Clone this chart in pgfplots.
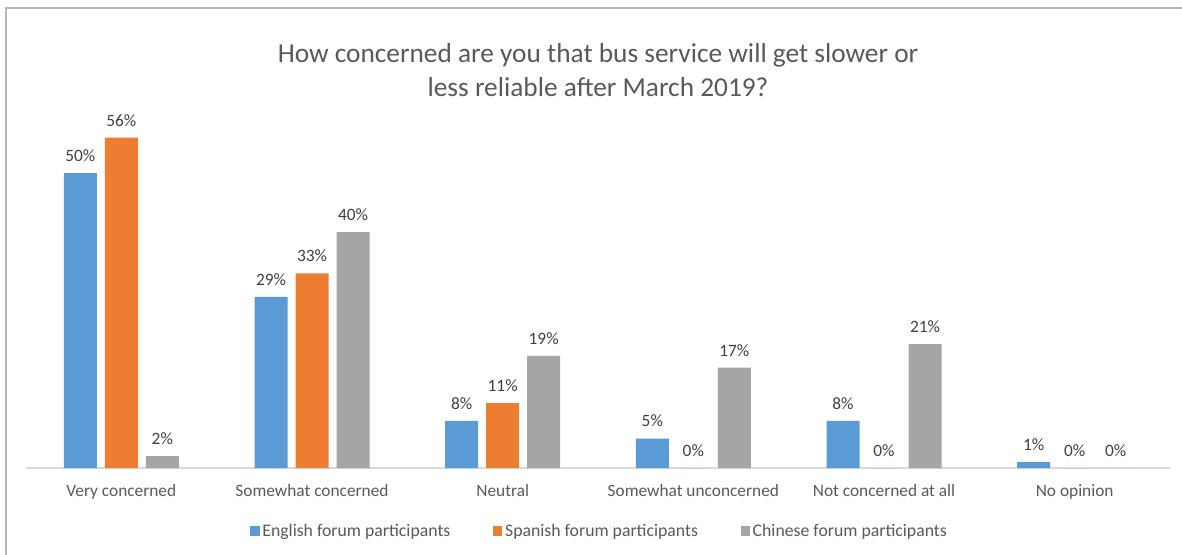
\documentclass[border=0pt]{standalone}
\usepackage{fontspec}
\setmainfont{Carlito}
\usepackage{pgfplots}
\pgfplotsset{compat=1.18}
\definecolor{cblue}{HTML}{5B9BD5}
\definecolor{corange}{HTML}{ED7D31}
\definecolor{cgray}{HTML}{A5A5A5}
\definecolor{txtgray}{HTML}{595959}
\definecolor{lblgray}{HTML}{404040}
\begin{document}
\begin{tikzpicture}[x=1pt,y=1pt]
\useasboundingbox (-19.5,-64.5) rectangle (867,351);
\draw[color=black!28, line width=0.9pt] (-15,-80) -- (-15,345) -- (890,345);
\node[align=center, font=\fontsize{20.5}{25.5}\selectfont, text=txtgray] at (429,298.5)
  {How concerned are you that bus service will get slower or\\less reliable after March 2019?};
\begin{axis}[
  at={(0,0)}, anchor=south west,
  scale only axis, width=858pt, height=265.5pt,
  xmin=-0.5, xmax=5.5, ymin=0, ymax=60,
  ybar=6pt, bar width=24.75pt,
  axis y line=none, axis x line=bottom,
  x axis line style={-, draw=black!15, line width=0.9pt},
  ytick=\empty, xtick={0,1,2,3,4,5}, major tick length=0pt,
  xticklabels={Very concerned, Somewhat concerned, Neutral, Somewhat unconcerned, Not concerned at all, No opinion},
  xticklabel style={font=\fontsize{13}{15}\selectfont, text=txtgray, yshift=-9pt},
  nodes near coords={\pgfmathprintnumber{\pgfplotspointmeta}\%},
  every node near coord/.append style={font=\fontsize{13}{15}\selectfont, text=lblgray, yshift=5pt},
  /pgf/number format/assume math mode=true,
  clip=false,
  legend style={at={(0.5017,-0.178)}, anchor=center, draw=none, fill=none,
    legend columns=3, font=\fontsize{13.3}{15}\selectfont, text=txtgray,
    /tikz/every even column/.append style={column sep=30pt}},
  legend image code/.code={\fill[#1] (0pt,-3.5pt) rectangle (7pt,3.5pt);},
]
\addplot[fill=cblue, draw=none] coordinates {(0,50) (1,29) (2,8) (3,5) (4,8) (5,1)};
\addplot[fill=corange, draw=none] coordinates {(0,56) (1,33) (2,11) (3,0) (4,0) (5,0)};
\addplot[fill=cgray, draw=none] coordinates {(0,2) (1,40) (2,19) (3,17) (4,21) (5,0)};
\legend{English forum participants, Spanish forum participants, Chinese forum participants}
\end{axis}
\end{tikzpicture}
\end{document}
